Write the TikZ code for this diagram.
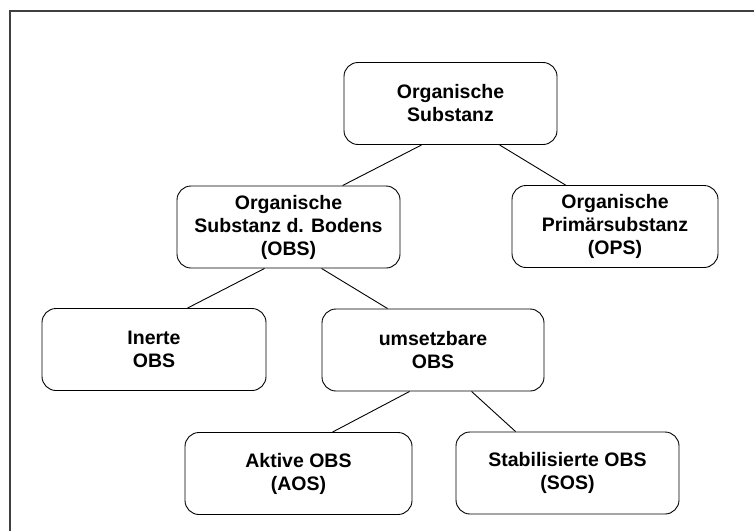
\documentclass[tikz,border=0pt]{standalone}
\usepackage{fontspec}
\setmainfont{Liberation Sans}
\begin{document}
\begin{tikzpicture}[x=1pt,y=-1pt,
  box/.style={draw=black, line width=0.9pt, rounded corners=14pt, align=center,
    font=\fontsize{19.5}{23}\selectfont\bfseries, inner sep=0pt, minimum height=82pt},
  link/.style={draw=black, line width=0.9pt},
  frame/.style={draw=black!75, line width=2.2pt}]
\useasboundingbox (0,0) rectangle (754,530);
\draw[frame] (760,11) -- (10,11) -- (10,540);
\node[box, minimum width=213pt] (root) at (450.5,103.5) {Organische\\Substanz};
\node[box, minimum width=223pt] (obs) at (288.5,227) {Organische\\Substanz d. Bodens\\(OBS)};
\node[box, minimum width=206pt] (ops) at (615,226.5) {Organische\\Primärsubstanz\\(OPS)};
\node[box, minimum width=224pt] (inert) at (154,349.5) {Inerte\\OBS};
\node[box, minimum width=222pt] (ums) at (433,350) {umsetzbare\\OBS};
\node[box, minimum width=227pt] (akt) at (298.5,473.5) {Aktive OBS\\(AOS)};
\node[box, minimum width=223pt] (stab) at (567.5,473) {Stabilisierte OBS\\(SOS)};
\draw[link] ([xshift=78pt]root.south west) -- ([xshift=166pt]obs.north west);
\draw[link] ([xshift=156pt]root.south west) -- ([xshift=54pt]ops.north west);
\draw[link] ([xshift=88pt]obs.south west) -- ([xshift=146pt]inert.north west);
\draw[link] ([xshift=145pt]obs.south west) -- ([xshift=66pt]ums.north west);
\draw[link] ([xshift=88pt]ums.south west) -- ([xshift=148pt]akt.north west);
\draw[link] ([xshift=150pt]ums.south west) -- ([xshift=60pt]stab.north west);
\end{tikzpicture}
\end{document}
